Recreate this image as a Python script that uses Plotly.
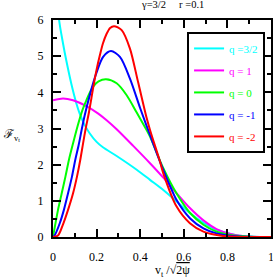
import plotly.graph_objects as go

# ---- data ----
labels = ["q =3/2", "q = 1", "q = 0", "q = -1", "q = -2"]
colors = ["#00FFFF", "#FF00FF", "#00FF00", "#0000FF", "#FF0000"]

x_q32 = [0.015, 0.028, 0.046, 0.061, 0.084, 0.107, 0.122, 0.147, 0.168, 0.2, 0.229, 0.292,
         0.384, 0.445, 0.506, 0.567, 0.628, 0.69, 0.75, 0.84, 0.92, 1.0]
y_q32 = [7.2, 6.0, 5.35, 4.88, 4.24, 3.70, 3.42, 3.08, 2.87, 2.63, 2.48, 2.24,
         1.86, 1.58, 1.30, 0.98, 0.66, 0.39, 0.20, 0.05, 0.01, 0.0]

x_q1 = [0.0, 0.046, 0.092, 0.153, 0.206, 0.246, 0.292, 0.368, 0.445, 0.506, 0.567, 0.628,
        0.69, 0.75, 0.81, 0.88, 0.95, 1.0]
y_q1 = [3.78, 3.83, 3.78, 3.62, 3.42, 3.23, 2.98, 2.52, 2.04, 1.64, 1.21, 0.80,
        0.46, 0.22, 0.09, 0.02, 0.0, 0.0]

x_q0 = [0.0, 0.023, 0.040, 0.057, 0.073, 0.092, 0.112, 0.135, 0.153, 0.183, 0.209, 0.243,
        0.292, 0.338, 0.384, 0.43, 0.445, 0.506, 0.567, 0.628, 0.69, 0.75, 0.83, 0.9, 1.0]
y_q0 = [0.0, 0.75, 1.21, 1.67, 2.13, 2.59, 3.05, 3.51, 3.78, 4.15, 4.30, 4.36,
        4.25, 3.92, 3.44, 2.95, 2.78, 1.90, 1.20, 0.67, 0.34, 0.15, 0.04, 0.01, 0.0]

x_qm1 = [0.0, 0.008, 0.031, 0.050, 0.069, 0.087, 0.102, 0.118, 0.131, 0.145, 0.17, 0.2, 0.23,
         0.266, 0.307, 0.353, 0.40, 0.445, 0.506, 0.567, 0.628, 0.69, 0.75, 0.84, 0.92, 1.0]
y_qm1 = [0.0, 0.05, 0.38, 0.75, 1.21, 1.67, 2.13, 2.55, 2.95, 3.35, 3.95, 4.55, 4.98,
         5.14, 4.98, 4.38, 3.56, 2.82, 1.85, 1.02, 0.52, 0.24, 0.10, 0.02, 0.0, 0.0]

x_qm2 = [0.0, 0.023, 0.046, 0.069, 0.092, 0.110, 0.125, 0.138, 0.150, 0.165, 0.185, 0.199,
         0.216, 0.229, 0.246, 0.262, 0.28, 0.315, 0.353, 0.39, 0.43, 0.445, 0.49, 0.506,
         0.567, 0.628, 0.69, 0.78, 0.88, 1.0]
y_qm2 = [0.0, 0.04, 0.35, 0.75, 1.21, 1.67, 2.13, 2.59, 3.0, 3.45, 4.15, 4.6,
         5.05, 5.35, 5.62, 5.78, 5.83, 5.72, 5.21, 4.29, 3.28, 2.96, 2.1, 1.76,
         0.84, 0.38, 0.15, 0.03, 0.0, 0.0]

xs = [x_q32, x_q1, x_q0, x_qm1, x_qm2]
ys = [y_q32, y_q1, y_q0, y_qm1, y_qm2]

x_ticks = [0, 0.2, 0.4, 0.6, 0.8, 1]
x_ticklabels = ["0", "0.2", "0.4", "0.6", "0.8", "1"]
y_ticks = [0, 1, 2, 3, 4, 5, 6]
y_ticklabels = ["0", "1", "2", "3", "4", "5", "6"]

FONT = "Liberation Serif"

fig = go.Figure()
for i, (x, y, c, lab) in enumerate(zip(xs, ys, colors, labels)):
    fig.add_trace(go.Scatter(
        x=x, y=y, mode="lines",
        line=dict(color=c, width=2, shape="spline", smoothing=0.8),
        name=f"<span style='color:{c}'>{lab}</span>",
        legendgroup=f"g{i}",
    ))

axis_common = dict(
    showline=True, linecolor="black", linewidth=2, mirror="ticks",
    ticks="inside", ticklen=8, tickwidth=1.5, tickcolor="black",
    showgrid=False, zeroline=False, automargin=False, ticklabeloverflow="allow",
    tickfont=dict(family=FONT, size=12, color="black"),
)

fig.update_xaxes(range=[0, 1], tickvals=x_ticks, ticktext=x_ticklabels,
                 minor=dict(dtick=0.1, ticks="inside", ticklen=4, tickwidth=1.5, tickcolor="black"),
                 ticklabelstandoff=8, **axis_common)
fig.update_yaxes(range=[0, 6], tickvals=y_ticks, ticktext=y_ticklabels,
                 minor=dict(dtick=0.5, ticks="inside", ticklen=4, tickwidth=1.5, tickcolor="black"),
                 ticklabelstandoff=5, **axis_common)

fig.update_layout(
    width=273, height=278,
    margin=dict(l=53, r=2, t=20, b=41, autoexpand=False),
    paper_bgcolor="white", plot_bgcolor="white",
    font=dict(family=FONT, size=12, color="black"),
    showlegend=True,
    legend=dict(x=0.615, y=0.945, xanchor="left", yanchor="top",
                bgcolor="white", bordercolor="black", borderwidth=2,
                font=dict(family=FONT, size=11), tracegroupgap=3),
    annotations=[
        dict(text="γ=3/2&nbsp;&nbsp;&nbsp;&nbsp;&nbsp;r =0.1", xref="paper", yref="paper",
             x=0.546, y=1.0, yshift=16, xanchor="center", yanchor="middle", showarrow=False,
             font=dict(family=FONT, size=10.5, color="black")),
        dict(text="v<sub>t</sub> /√<span style='text-decoration:overline'>2ψ</span>",
             xref="paper", yref="paper", x=0.55, y=0, yshift=-34, xanchor="center",
             yanchor="middle", showarrow=False,
             font=dict(family=FONT, size=12, color="black")),
        dict(text="ℱ<sub>v<sub>t</sub></sub>", xref="paper", yref="paper",
             x=0, xshift=-52, y=0.47, xanchor="left", yanchor="middle", showarrow=False,
             font=dict(family=FONT, size=12, color="black")),
    ],
)

fig.write_html("out.html", config={"displayModeBar": False},
               post_script="document.body.style.margin='0px';document.body.style.overflow='hidden';")
